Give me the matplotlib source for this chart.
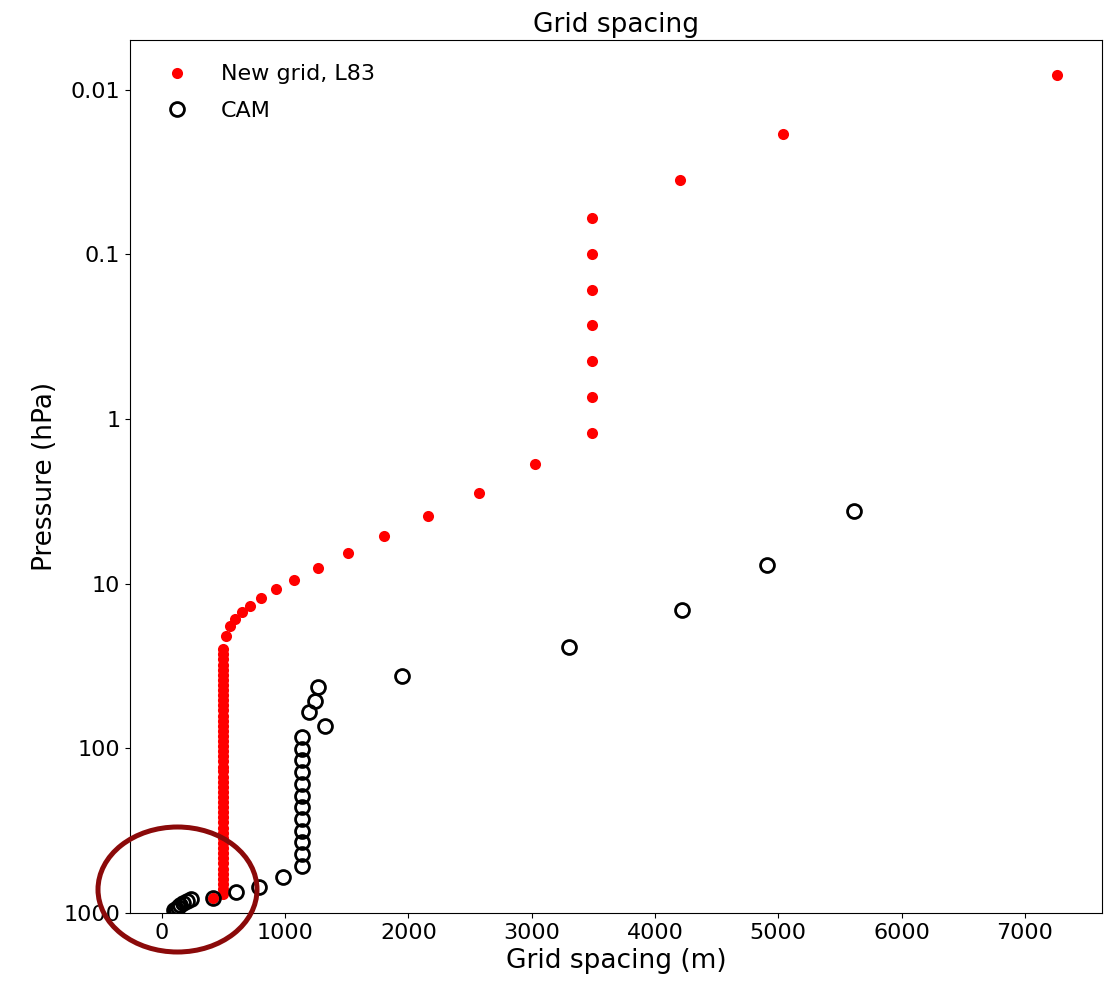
import numpy as np
import matplotlib
matplotlib.use("Agg")
import matplotlib.pyplot as plt
from matplotlib.patches import Ellipse
from matplotlib.ticker import FixedLocator, NullLocator


# New grid, L83: grid spacing (m) and pressure (hPa)
new_dx = [
    7260, 5040, 4200, 3490, 3490, 3490, 3490, 3490, 3490, 3490,
    3030, 2570, 2160, 1800, 1510, 1270, 1075, 925, 805, 715,
    650, 595, 555, 520,
    500, 500, 500, 500, 500, 500, 500, 500, 500, 500,
    500, 500, 500, 500, 500, 500, 500, 500, 500, 500,
    500, 500, 500, 500, 500, 500, 500, 500, 500, 500,
    500, 500, 500, 500, 500, 500, 500, 500, 500, 500,
    500, 500, 500, 500, 500, 500, 500, 500, 500,
    415,
]
new_p = [
    0.0082, 0.0187, 0.0355, 0.060, 0.0995, 0.165, 0.268, 0.443, 0.733, 1.21,
    1.87, 2.80, 3.91, 5.17, 6.55, 8.07, 9.55, 10.8, 12.3, 13.7,
    14.9, 16.5, 18.1, 20.9,
    25.0, 26.9, 28.8, 31.0, 33.3, 35.7, 38.4, 41.2, 44.3, 47.5,
    51.0, 54.8, 58.9, 63.2, 67.9, 72.9, 78.3, 84.1, 90.3, 97.0,
    104, 112, 120, 129, 138, 149, 160, 171, 184, 198,
    212, 228, 245, 263, 282, 303, 326, 350, 376, 404,
    433, 465, 500, 537, 577, 619, 665, 714, 767,
    811,
]

# CAM levels
cam_dx = [
    5610, 4910, 4220, 3300, 1950, 1270, 1240, 1195, 1325,
    1140, 1140, 1140, 1140, 1140, 1140, 1140, 1140, 1140, 1140, 1140, 1140,
    980, 785, 600, 415, 240, 205, 175, 150, 130, 115, 100,
]
cam_p = [
    3.64, 7.75, 14.5, 24.3, 36.5, 42.7, 51.5, 60.5, 73.6,
    85.4, 100.9, 118.5, 139, 165, 194.5, 227, 268, 317, 372, 437, 517,
    605, 695, 747, 811, 825, 845, 865, 890, 915, 940, 965,
]

p_ticks = [0.01, 0.1, 1, 10, 100, 1000]
p_labels = ["0.01", "0.1", "1", "10", "100", "1000"]
x_ticks = [0, 1000, 2000, 3000, 4000, 5000, 6000, 7000]

fig = plt.figure(figsize=(11.14, 9.83), dpi=100)
ax = fig.add_axes([0.1167, 0.0712, 0.8725, 0.8881])

ax.plot(new_dx, new_p, 'o', color='red', markersize=8, markeredgewidth=0,
        label='New grid, L83')
ax.plot(cam_dx, cam_p, 'o', mfc='none', mec='black', markersize=10,
        markeredgewidth=2, label='CAM')

ax.set_yscale('log')
ax.set_ylim(1000, 0.005)
ax.yaxis.set_major_locator(FixedLocator(p_ticks))
ax.yaxis.set_minor_locator(NullLocator())
ax.set_yticklabels(p_labels)
ax.set_xticks(x_ticks)
ax.set_xlim(-258, 7625)

ax.tick_params(labelsize=16)
ax.set_title("Grid spacing", fontsize=19)
ax.set_xlabel("Grid spacing (m)", fontsize=19)
ax.set_ylabel("Pressure (hPa)", fontsize=19)
ax.legend(loc='upper left', fontsize=16, frameon=False, labelspacing=0.75,
          handletextpad=1.0, borderaxespad=0.7)

# red circle highlighting the near-surface levels
ell = Ellipse((177.5 / 1114, 1 - 889.5 / 983), 159 / 1114, 125 / 983,
              transform=fig.transFigure, fill=False, edgecolor='#8b0a0a',
              linewidth=3.6, clip_on=False)
fig.add_artist(ell)

fig.savefig("out.png", dpi=100)
